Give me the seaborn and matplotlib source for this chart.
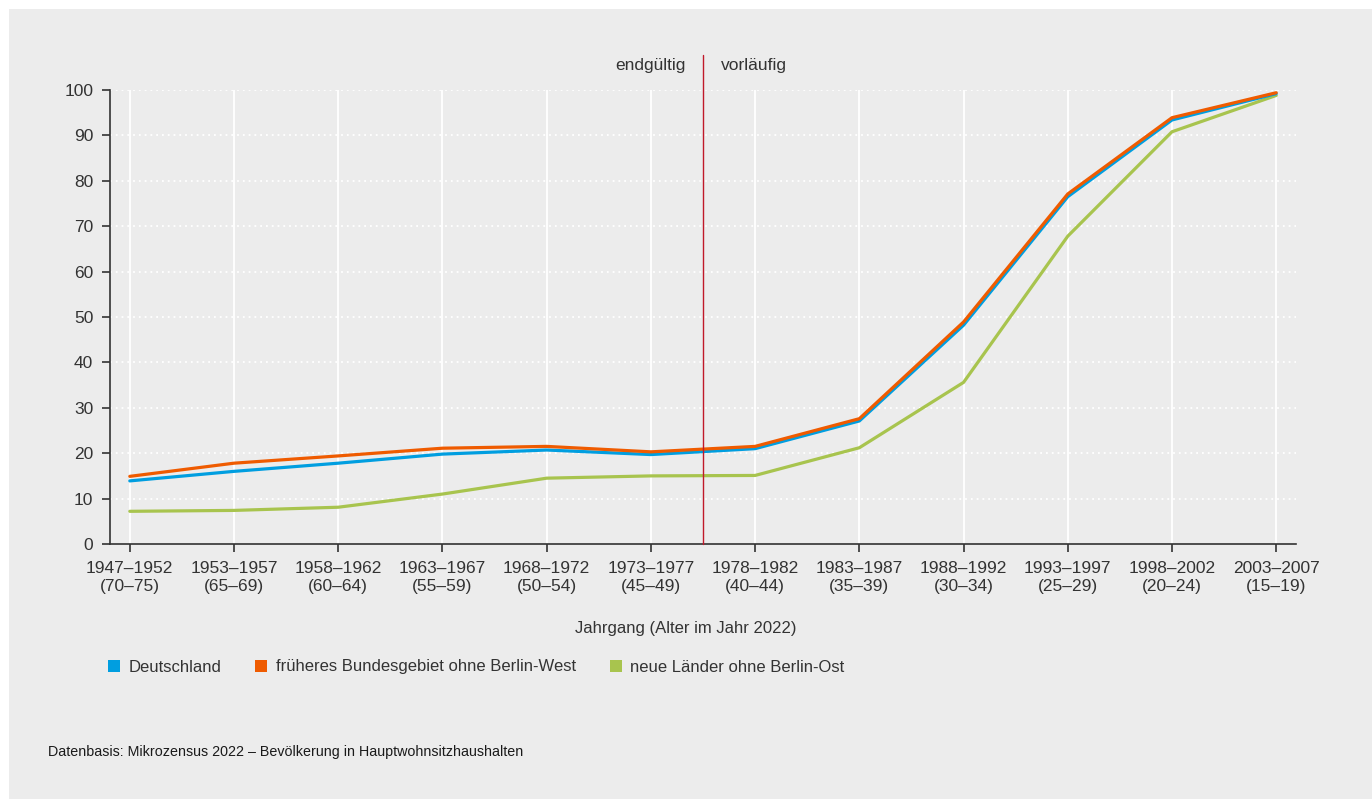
import numpy as np
import pandas as pd
import seaborn as sns
import matplotlib.pyplot as plt
from matplotlib.patches import Rectangle, Patch

jahrgang = ["1947–1952\n(70–75)", "1953–1957\n(65–69)", "1958–1962\n(60–64)",
            "1963–1967\n(55–59)", "1968–1972\n(50–54)", "1973–1977\n(45–49)",
            "1978–1982\n(40–44)", "1983–1987\n(35–39)", "1988–1992\n(30–34)",
            "1993–1997\n(25–29)", "1998–2002\n(20–24)", "2003–2007\n(15–19)"]

deutschland = [13.9, 16.0, 17.8, 19.8, 20.7, 19.7, 21.0, 27.1, 48.2, 76.5, 93.4, 99.2]
frueheres_bg = [14.9, 17.8, 19.4, 21.1, 21.5, 20.3, 21.5, 27.6, 48.9, 77.1, 93.9, 99.4]
neue_laender = [7.2, 7.4, 8.1, 11.0, 14.5, 15.0, 15.1, 21.2, 35.6, 67.8, 90.8, 98.8]

serien = ["Deutschland", "früheres Bundesgebiet ohne Berlin-West", "neue Länder ohne Berlin-Ost"]
farben = {"Deutschland": "#009ee0",
          "früheres Bundesgebiet ohne Berlin-West": "#ef5b00",
          "neue Länder ohne Berlin-Ost": "#a8c44e"}

df = pd.DataFrame({
    "x": list(range(len(jahrgang))) * 3,
    "wert": deutschland + frueheres_bg + neue_laender,
    "gebiet": [serien[0]] * 12 + [serien[1]] * 12 + [serien[2]] * 12,
})

bg = "#ececec"
txt = "#333333"
fs = 12.5
sns.set_style("white", {"axes.facecolor": bg})
plt.rcParams["font.family"] = ["Liberation Sans", "DejaVu Sans"]

fig = plt.figure(figsize=(13.72, 7.99), dpi=100, facecolor="white")
fig.patches.append(Rectangle((9 / 1372, 0), 1, 1 - 9 / 799, transform=fig.transFigure,
                             facecolor=bg, edgecolor="none", zorder=-10))
ax = fig.add_axes([110 / 1372, 1 - 544 / 799, (1296 - 110) / 1372, (544 - 90) / 799])
ax.set_facecolor(bg)

# vertical solid grid, horizontal dotted grid
for i in range(len(jahrgang)):
    ax.axvline(i, color="white", lw=1.3, zorder=0)
for v in range(10, 101, 10):
    ax.axhline(v, color="white", lw=1.3, ls=(0, (1, 2.2)), zorder=0)

# draw order: green, blue, orange on top
for name in [serien[2], serien[0], serien[1]]:
    sns.lineplot(data=df[df["gebiet"] == name], x="x", y="wert", color=farben[name],
                 lw=2.3, ax=ax, legend=False, zorder=3)

ax.axvline(5.5, ymin=0, ymax=(544 - 55) / (544 - 90), color="#c0182a", lw=1.0,
           clip_on=False, zorder=4)
ax.text(5.33, 105.5, "endgültig", ha="right", va="center", fontsize=fs, color=txt)
ax.text(5.67, 105.5, "vorläufig", ha="left", va="center", fontsize=fs, color=txt)

ax.set_xlim(-0.19, 11.19)
ax.set_ylim(0, 100)
ax.set_xticks(range(len(jahrgang)))
ax.set_xticklabels(jahrgang, fontsize=fs, color=txt, linespacing=1.3)
ax.set_yticks(range(0, 101, 10))
ax.set_yticklabels([str(v) for v in range(0, 101, 10)], fontsize=fs, color=txt)
ax.tick_params(axis="both", direction="out", length=6, width=1.2, color="#333333",
               bottom=True, left=True, pad=6)
ax.set_xlabel("")
ax.set_ylabel("")
sns.despine(ax=ax)
for s in ["left", "bottom"]:
    ax.spines[s].set_color("#333333")
    ax.spines[s].set_linewidth(1.2)

fig.text(0.5, 1 - 628 / 799, "Jahrgang (Alter im Jahr 2022)", ha="center", va="center",
         fontsize=12, color=txt)

handles = [Patch(facecolor=farben[n], edgecolor="none") for n in serien]
fig.legend(handles, serien, loc="center left", bbox_to_anchor=(93 / 1372, 1 - 667 / 799),
           ncol=3, frameon=False, fontsize=12, handlelength=0.72, handleheight=0.72,
           handletextpad=0.5, columnspacing=2.05, labelcolor=txt)

fig.text(48 / 1372, 1 - 752 / 799, "Datenbasis: Mikrozensus 2022 – Bevölkerung in Hauptwohnsitzhaushalten",
         ha="left", va="center", fontsize=10.3, color="#1a1a1a")

fig.savefig("out.png", dpi=100, facecolor="white")
